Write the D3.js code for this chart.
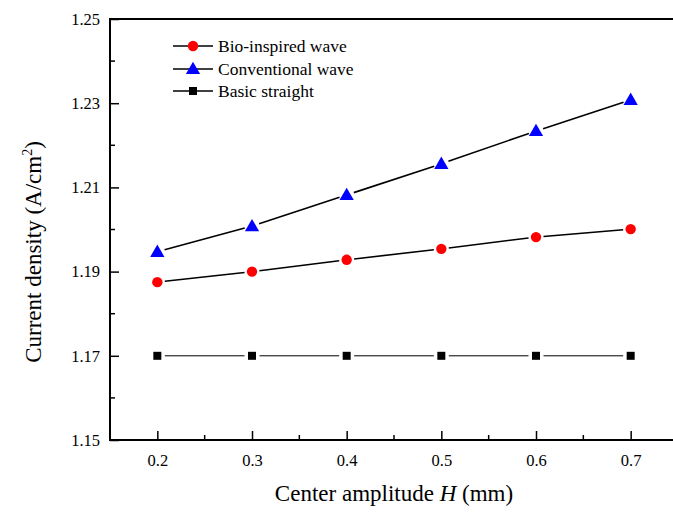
<!DOCTYPE html>
<html>
<head>
<meta charset="utf-8">
<script src="https://cdn.jsdelivr.net/npm/d3@7"></script>
<style>
  body { margin: 0; background: #fff; }
  svg { display: block; }
  svg text { font-family: "Liberation Serif", "Times New Roman", serif; fill: #000; }
</style>
</head>
<body>
<svg id="chart" width="673" height="512"></svg>
<script>
// amplitude H (mm)
const amplitudes = [0.2, 0.3, 0.4, 0.5, 0.6, 0.7];
const bioWave = [1.1875, 1.1900, 1.1928, 1.1954, 1.1982, 1.2001];
const convWave = [1.1947, 1.2008, 1.2082, 1.2156, 1.2234, 1.2308];
const basicStraight = [1.1700, 1.1700, 1.1700, 1.1700, 1.1700, 1.1700];
const xTicks = [0.2, 0.3, 0.4, 0.5, 0.6, 0.7];
const yTicks = [1.15, 1.17, 1.19, 1.21, 1.23, 1.25];

const series = [
  {name: 'Bio-inspired wave', values: bioWave, shape: 'circle', color: '#ff0000', lw: 1.6},
  {name: 'Conventional wave', values: convWave, shape: 'triangle', color: '#0000ff', lw: 1.6},
  {name: 'Basic straight', values: basicStraight, shape: 'square', color: '#000000', lw: 1}
];

const svg = d3.select('#chart');
const m = {left: 110, top: 19, bottom: 440, right: 678};
const x = d3.scaleLinear().domain([0.15, 0.75]).range([m.left, m.right]);
const y = d3.scaleLinear().domain([1.15, 1.25]).range([m.bottom, m.top]);

const gx = svg.append('g').attr('transform', 'translate(0,' + m.bottom + ')');
gx.call(d3.axisBottom(x).tickValues(xTicks).tickSize(-9).tickPadding(14).tickFormat(d3.format('.1f')));
gx.append('g').selectAll('line').data([0.25, 0.35, 0.45, 0.55, 0.65])
  .join('line').attr('x1', d => x(d)).attr('x2', d => x(d)).attr('y1', 0).attr('y2', -5)
  .attr('stroke', '#000').attr('stroke-width', 1.5);

const gy = svg.append('g').attr('transform', 'translate(' + m.left + ',0)');
gy.call(d3.axisLeft(y).tickValues(yTicks).tickSize(-9).tickPadding(10).tickFormat(d3.format('.2f')));
gy.append('g').selectAll('line').data([1.16, 1.18, 1.20, 1.22, 1.24])
  .join('line').attr('x1', 0).attr('x2', 5).attr('y1', d => y(d)).attr('y2', d => y(d))
  .attr('stroke', '#000').attr('stroke-width', 1.5);

[gx, gy].forEach(g => {
  g.attr('font-family', null).attr('font-size', null);
  g.select('.domain').remove();
  g.selectAll('.tick line').attr('stroke-width', 1.5);
  g.selectAll('.tick text').attr('font-size', 16.5);
});

// frame (top, bottom, left; right edge falls outside the picture)
svg.append('line').attr('x1', m.left).attr('x2', 673).attr('y1', m.top).attr('y2', m.top)
  .attr('stroke', '#000').attr('stroke-width', 2);
svg.append('line').attr('x1', m.left).attr('x2', 673).attr('y1', m.bottom).attr('y2', m.bottom)
  .attr('stroke', '#000').attr('stroke-width', 2);
svg.append('line').attr('x1', m.left).attr('x2', m.left).attr('y1', m.top - 1).attr('y2', m.bottom + 1)
  .attr('stroke', '#000').attr('stroke-width', 2);

function marker(g, shape, color, cx, cy) {
  if (shape === 'circle') g.append('circle').attr('cx', cx).attr('cy', cy).attr('r', 5.2).attr('fill', color);
  else if (shape === 'triangle') g.append('path').attr('d', d3.symbol(d3.symbolTriangle, 88)()).attr('transform', 'translate(' + cx + ',' + (cy + 1) + ')').attr('fill', color);
  else g.append('rect').attr('x', cx - 4).attr('y', cy - 4).attr('width', 8).attr('height', 8).attr('fill', color);
}

// series: segments with small gaps at markers
const gap = 7.5;
series.forEach(s => {
  const g = svg.append('g');
  const pts = amplitudes.map((a, i) => [x(a), y(s.values[i])]);
  for (let i = 0; i < pts.length - 1; i++) {
    const [x1, y1] = pts[i], [x2, y2] = pts[i + 1];
    const len = Math.hypot(x2 - x1, y2 - y1), ux = (x2 - x1) / len, uy = (y2 - y1) / len;
    g.append('line').attr('x1', x1 + ux * gap).attr('y1', y1 + uy * gap)
      .attr('x2', x2 - ux * gap).attr('y2', y2 - uy * gap)
      .attr('stroke', '#000').attr('stroke-width', s.lw);
  }
  pts.forEach(p => marker(g, s.shape, s.color, p[0], p[1]));
});

// legend
const legY = [46, 69, 91];
series.forEach((s, i) => {
  const g = svg.append('g');
  g.append('line').attr('x1', 173).attr('x2', 213).attr('y1', legY[i]).attr('y2', legY[i])
    .attr('stroke', '#000').attr('stroke-width', 1.3);
  marker(g, s.shape, s.color, 193, legY[i]);
  g.append('text').attr('x', 218).attr('y', legY[i] + 5.5).attr('font-size', 17.5).text(s.name);
});

// axis titles
const xt = svg.append('text').attr('x', 394).attr('y', 501).attr('text-anchor', 'middle').attr('font-size', 23);
xt.append('tspan').text('Center amplitude ');
xt.append('tspan').attr('font-style', 'italic').text('H');
xt.append('tspan').text(' (mm)');

const yt = svg.append('text').attr('transform', 'translate(41,252) rotate(-90)').attr('text-anchor', 'middle').attr('font-size', 23);
yt.append('tspan').text('Current density (A/cm');
yt.append('tspan').attr('font-size', 14).attr('dy', -9).text('2');
yt.append('tspan').attr('dy', 9).text(')');
</script>
</body>
</html>
